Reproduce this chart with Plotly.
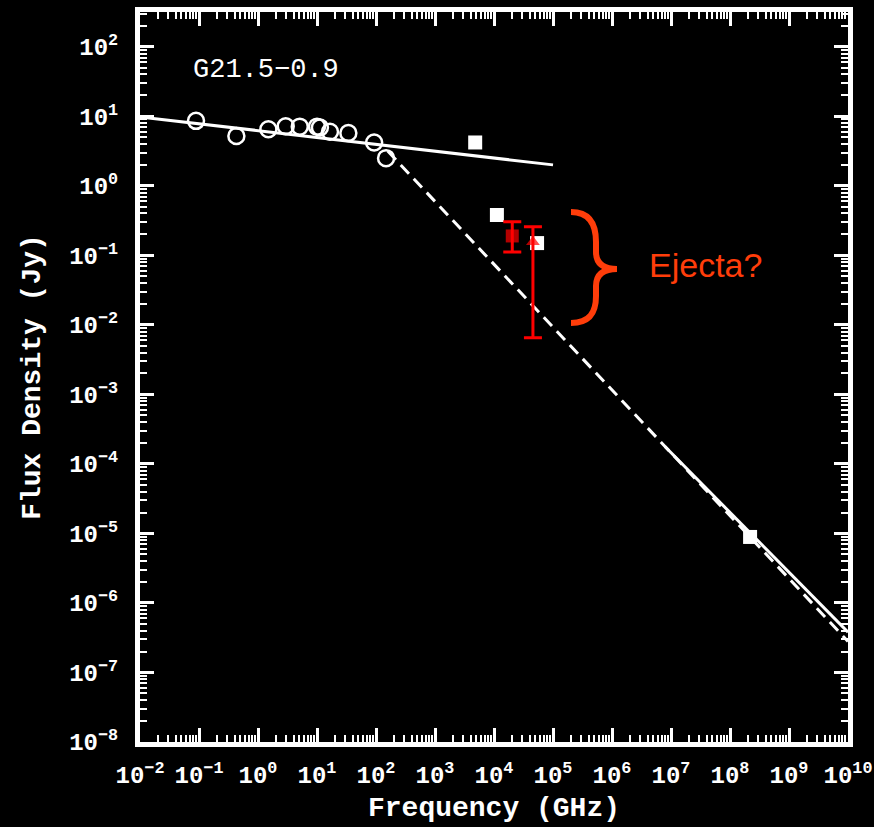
import plotly.graph_objects as go

# ---------------- data ----------------
radio_freq = [0.089, 0.43, 1.5, 2.95, 5.1, 10.0, 11.2, 16.6, 34.0, 93.0, 148.0]
radio_flux = [8.6, 5.2, 6.5, 7.2, 7.1, 7.1, 6.9, 6.0, 5.75, 4.2, 2.5]

square_freq = [4800.0, 11200.0, 53700.0, 2.19e8]
square_flux = [4.2, 0.38, 0.15, 8.9e-6]

ejecta_freq = [20400.0, 45700.0]
ejecta_flux = [0.19, 0.156]
ejecta_err_plus = [0.113, 0.101]
ejecta_err_minus = [0.078, 0.1495]

low_line_freq = [1e-2, 1e5]
low_line_flux = [9.8, 2.0]

dash_freq = [158.0, 1e10]
dash_flux = [3.16, 2.8e-7]

xray_freq = [7.9e6, 1e10]
xray_flux = [1.78e-4, 3.8e-7]

x_exps = list(range(-2, 11))
y_exps = list(range(-8, 3))

# ---------------- layout helpers ----------------
W, H = 874, 827
ML, MR, MT, MB = 140, 26, 12, 85
PW, PH = W - ML - MR, H - MT - MB


def pp(px, py):
    return (px - ML) / PW, (H - MB - py) / PH


def sup_label(e):
    s = str(e).replace("-", "\u2212")
    return "10<sup>" + s + "</sup>"


x_ticktext = [sup_label(e) for e in x_exps]
y_ticktext = [sup_label(e) for e in y_exps]
x_minor = [m * 10.0 ** e for e in range(-2, 10) for m in range(2, 10)]
y_minor = [m * 10.0 ** e for e in range(-8, 3) for m in range(2, 10) if m * 10.0 ** e < 10 ** 2.5]

fig = go.Figure()

# solid low-frequency power law
fig.add_trace(go.Scatter(x=low_line_freq, y=low_line_flux, mode="lines",
                         line=dict(color="white", width=3), hoverinfo="skip"))
# dashed broken power law
fig.add_trace(go.Scatter(x=dash_freq, y=dash_flux, mode="lines",
                         line=dict(color="white", width=3, dash="12px,7px"), hoverinfo="skip"))
# solid X-ray power law
fig.add_trace(go.Scatter(x=xray_freq, y=xray_flux, mode="lines",
                         line=dict(color="white", width=3), hoverinfo="skip"))
# radio points
fig.add_trace(go.Scatter(x=radio_freq, y=radio_flux, mode="markers",
                         marker=dict(symbol="circle-open", size=16, color="white",
                                     line=dict(width=2.5, color="white"))))
# white squares
fig.add_trace(go.Scatter(x=square_freq, y=square_flux, mode="markers",
                         marker=dict(symbol="square", size=14, color="white")))
# red ejecta points
fig.add_trace(go.Scatter(x=ejecta_freq, y=ejecta_flux, mode="markers",
                         marker=dict(symbol=["square", "triangle-up"], size=[13, 12], color="#ff0000",
                                     line=dict(width=0)),
                         error_y=dict(type="data", symmetric=False, array=ejecta_err_plus,
                                      arrayminus=ejecta_err_minus, color="#ff0000",
                                      thickness=3, width=9)))

MONO = "Liberation Mono"
tick_font = dict(family=MONO, size=24, color="white", weight="bold")
title_font = dict(family=MONO, size=28, color="white", weight="bold")

axis_common = dict(
    type="log", showgrid=False, zeroline=False, automargin=False,
    showline=True, linewidth=5, linecolor="white", mirror="ticks",
    ticks="inside", ticklen=14, tickwidth=3, tickcolor="white",
    tickmode="array", tickfont=tick_font,
)

fig.update_layout(
    width=W, height=H,
    margin=dict(l=ML, r=MR, t=MT, b=MB, autoexpand=False),
    paper_bgcolor="black", plot_bgcolor="black",
    showlegend=False,
    xaxis=dict(axis_common, range=[-2, 10], tickvals=[10.0 ** e for e in x_exps],
               ticktext=x_ticktext, ticklabelstandoff=7,
               minor=dict(tickmode="array", tickvals=x_minor, ticks="inside",
                          ticklen=7, tickwidth=2, tickcolor="white", showgrid=False),
               title=dict(text="Frequency (GHz)", font=title_font, standoff=9)),
    yaxis=dict(axis_common, range=[-8, 2.5], tickvals=[10.0 ** e for e in y_exps],
               ticktext=y_ticktext, ticklabelstandoff=12,
               minor=dict(tickmode="array", tickvals=y_minor, ticks="inside",
                          ticklen=7, tickwidth=2, tickcolor="white", showgrid=False),
               title=dict(text="Flux Density (Jy)", font=title_font, standoff=22)),
)

# title text inside the plot
tx, ty = pp(266, 70)
fig.add_annotation(x=tx, y=ty, xref="paper", yref="paper", text="G21.5\u22120.9",
                   showarrow=False, xanchor="center", yanchor="middle",
                   font=dict(family=MONO, size=27, color="white"))

# brace
brace_pts = [("M", [(571, 212)]),
             ("C", [(590, 212), (596, 225), (596, 242)]),
             ("L", [(596, 252)]),
             ("C", [(596, 264), (604, 269), (617, 269)]),
             ("C", [(604, 269), (596, 274), (596, 286)]),
             ("L", [(596, 296)]),
             ("C", [(596, 312), (590, 323), (571, 323)])]
path = ""
for cmd, pts in brace_pts:
    path += cmd + " " + " ".join("%.5f,%.5f" % pp(a, b) for a, b in pts) + " "
fig.add_shape(type="path", path=path.strip(), xref="paper", yref="paper",
              line=dict(color="#ff3d0a", width=6))

ex, ey = pp(647, 265)
fig.add_annotation(x=ex, y=ey, xref="paper", yref="paper", text="Ejecta?",
                   showarrow=False, xanchor="left", yanchor="middle",
                   font=dict(family="Liberation Sans", size=34, color="#ff3d0a"))

fig.write_html("out.html", config={"displayModeBar": False},
               post_script="document.body.style.margin='0';document.body.style.background='black';")
